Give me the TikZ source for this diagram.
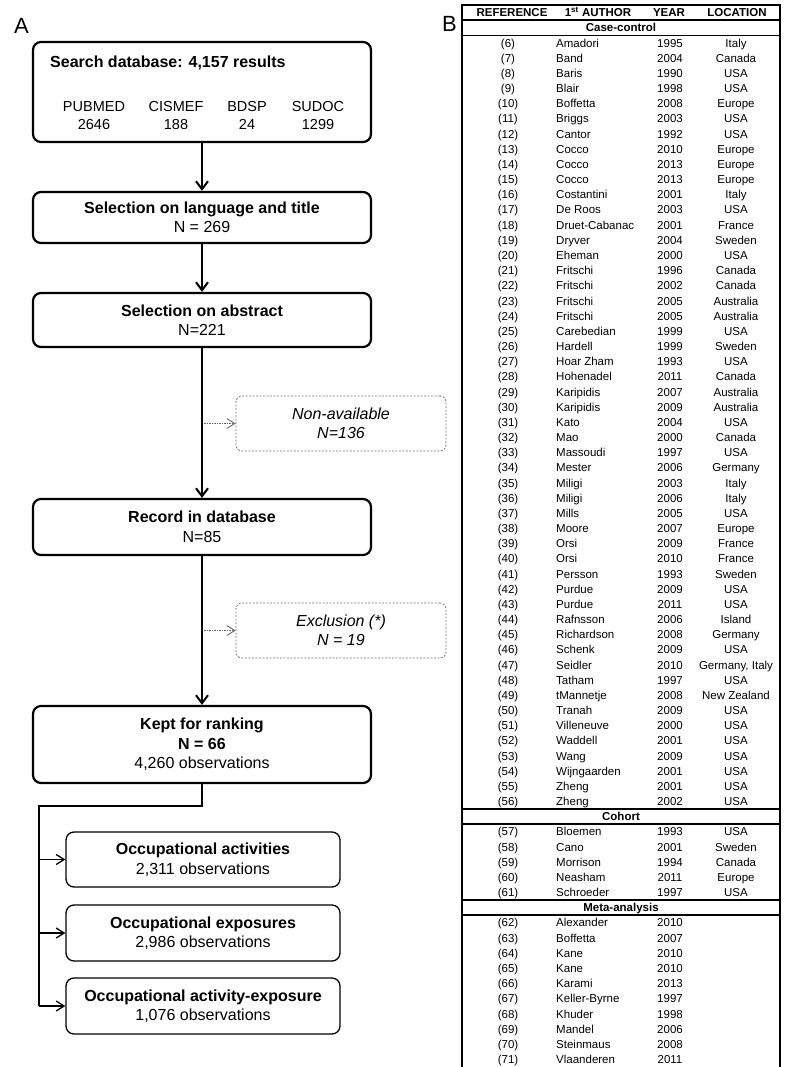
\documentclass[tikz,border=0pt]{standalone}
\usepackage{fontspec}
\setmainfont{Liberation Sans}
\usetikzlibrary{arrows.meta}
\newcommand\fsz[2]{\fontsize{#1}{#2}\selectfont}
\begin{document}
\begin{tikzpicture}[x=1pt,y=-1pt,
  mainbox/.style={draw, line width=2.2pt, rounded corners=8pt, minimum width=338pt, inner sep=0pt, align=center, font=\fsz{16}{19.5}},
  subbox/.style={draw, line width=1.3pt, rounded corners=8pt, minimum width=274pt, minimum height=55pt, inner sep=0pt, align=center, font=\fsz{16}{19.5}},
  dashbox/.style={draw=black!55, line width=0.8pt, dash pattern=on 2pt off 1.5pt, rounded corners=6pt, minimum width=210pt, minimum height=55pt, inner sep=0pt, align=center, font=\fsz{16}{18.5}\itshape},
  srcnode/.style={inner sep=0pt, anchor=base, font=\fsz{14.5}{17}},
  mainarrow/.style={line width=2pt, -{Straight Barb[length=8pt,width=12pt,line width=2pt]}},
  dotarrow/.style={draw=black!60, line width=0.9pt, dash pattern=on 1.5pt off 1pt, -{Straight Barb[length=8pt,width=10pt,line width=0.9pt]}},
  branch/.style={line width=1.3pt},
  subarrow/.style={line width=1.3pt, -{Straight Barb[length=8pt,width=10pt,line width=1.3pt]}},
  tline/.style={line width=1.6pt},
  thead/.style={inner sep=0pt, anchor=base, font=\fsz{11.5}{13}\bfseries},
  tcell/.style={inner sep=0pt, anchor=base, font=\fsz{11.5}{13}},
  panel/.style={inner sep=0pt, font=\fsz{22}{24}}
]
\useasboundingbox (0,0) rectangle (785,1067);

% ---------- Panel A ----------
\node[panel] (labA) at (21.5,25.5) {A};

\node[mainbox, minimum height=100pt] (search) at (202,92) {};
\node[anchor=base west, inner sep=0pt, font=\fsz{16}{19.5}\bfseries] (stitle) at (50,67.5) {Search database: 4,157 results};
\node[srcnode] (pubmed) at (94,112) {PUBMED};
\node[srcnode] (cismef) at (176,112) {CISMEF};
\node[srcnode] (bdsp) at (247,112) {BDSP};
\node[srcnode] (sudoc) at (318,112) {SUDOC};
\node[srcnode] (npubmed) at (94,129.5) {2646};
\node[srcnode] (ncismef) at (176,129.5) {188};
\node[srcnode] (nbdsp) at (247,129.5) {24};
\node[srcnode] (nsudoc) at (318,129.5) {1299};

\node[mainbox, minimum height=51pt] (lang) at (202,217.5) {\textbf{Selection on language and title}\\N = 269};
\node[mainbox, minimum height=54pt] (abs) at (202,320) {\textbf{Selection on abstract}\\N=221};
\node[dashbox] (nonav) at (341,423.5) {Non-available\\N=136};
\node[mainbox, minimum height=56pt] (rec) at (202,527) {\textbf{Record in database}\\N=85};
\node[dashbox] (excl) at (341,630.5) {Exclusion (*)\\N = 19};
\node[mainbox, minimum height=77pt] (kept) at (202,744.5) {\textbf{Kept for ranking}\\\textbf{N = 66}\\4,260 observations};

\node[subbox] (occact) at (203,859.5) {\textbf{Occupational activities}\\2,311 observations};
\node[subbox, minimum height=56pt] (occexp) at (203,933) {\textbf{Occupational exposures}\\2,986 observations};
\node[subbox, minimum height=56pt] (occae) at (203,1006) {\textbf{Occupational activity-exposure}\\1,076 observations};

\draw[mainarrow] (search.south) -- (lang.north);
\draw[mainarrow] (lang.south) -- (abs.north);
\draw[mainarrow] (abs.south) -- (rec.north);
\draw[mainarrow] (rec.south) -- (kept.north);

\coordinate (na0) at (204,423.5);
\coordinate (ex0) at (204,630.5);
\draw[dotarrow] (na0) -- (nonav.west);
\draw[dotarrow] (ex0) -- (excl.west);

\coordinate (b0) at (202,806);
\coordinate (b1) at (39,806);
\coordinate (b3) at (39,1006);
\draw[branch] (kept.south) -- (b0) -- (b1) -- (b3);
\draw[subarrow] (b1 |- occact.west) -- (occact.west);
\draw[subarrow] (b1 |- occexp.west) -- (occexp.west);
\draw[subarrow] (b3) -- (occae.west);

% ---------- Panel B ----------
\node[panel] (labB) at (449.5,23.5) {B};

\draw[tline] (462,1067) -- (462,5) -- (780,5) -- (780,1067);
\foreach \k in {1,2,53,54,59,60} {
  \draw[tline] (462,5+15.17*\k) -- (780,5+15.17*\k);
}

\node[thead] (hRef) at (512,16.8) {REFERENCE};
\node[thead] (hAut) at (598,16.8) {1\textsuperscript{st} AUTHOR};
\node[thead] (hYear) at (669,16.8) {YEAR};
\node[thead] (hLoc) at (737,16.8) {LOCATION};

\node[thead] (sCC) at (621,32) {Case-control};
\node[thead] (sCo) at (621,820.8) {Cohort};
\node[thead] (sMA) at (621,911.8) {Meta-analysis};

\foreach \r/\a/\yr/\loc [count=\k] in {
  6/Amadori/1995/Italy, 7/Band/2004/Canada, 8/Baris/1990/USA, 9/Blair/1998/USA,
  10/Boffetta/2008/Europe, 11/Briggs/2003/USA, 12/Cantor/1992/USA, 13/Cocco/2010/Europe,
  14/Cocco/2013/Europe, 15/Cocco/2013/Europe, 16/Costantini/2001/Italy, 17/De Roos/2003/USA,
  18/Druet-Cabanac/2001/France, 19/Dryver/2004/Sweden, 20/Eheman/2000/USA, 21/Fritschi/1996/Canada,
  22/Fritschi/2002/Canada, 23/Fritschi/2005/Australia, 24/Fritschi/2005/Australia, 25/Carebedian/1999/USA,
  26/Hardell/1999/Sweden, 27/Hoar Zham/1993/USA, 28/Hohenadel/2011/Canada, 29/Karipidis/2007/Australia,
  30/Karipidis/2009/Australia, 31/Kato/2004/USA, 32/Mao/2000/Canada, 33/Massoudi/1997/USA,
  34/Mester/2006/Germany, 35/Miligi/2003/Italy, 36/Miligi/2006/Italy, 37/Mills/2005/USA,
  38/Moore/2007/Europe, 39/Orsi/2009/France, 40/Orsi/2010/France, 41/Persson/1993/Sweden,
  42/Purdue/2009/USA, 43/Purdue/2011/USA, 44/Rafnsson/2006/Island, 45/Richardson/2008/Germany,
  46/Schenk/2009/USA, 47/Seidler/2010/{Germany, Italy}, 48/Tatham/1997/USA, 49/tMannetje/2008/New Zealand,
  50/Tranah/2009/USA, 51/Villeneuve/2000/USA, 52/Waddell/2001/USA, 53/Wang/2009/USA,
  54/Wijngaarden/2001/USA, 55/Zheng/2001/USA, 56/Zheng/2002/USA} {
  \pgfmathsetmacro\yy{5+15.17*(\k+1.5)+4.2}
  \node[tcell] (cr\k) at (508,\yy) {(\r)};
  \node[tcell, anchor=base west] (ca\k) at (556,\yy) {\a};
  \node[tcell] (cy\k) at (670,\yy) {\yr};
  \node[tcell] (cl\k) at (736,\yy) {\loc};
}

\foreach \r/\a/\yr/\loc [count=\k] in {
  57/Bloemen/1993/USA, 58/Cano/2001/Sweden, 59/Morrison/1994/Canada, 60/Neasham/2011/Europe, 61/Schroeder/1997/USA} {
  \pgfmathsetmacro\yy{5+15.17*(\k+53.5)+4.2}
  \node[tcell] (kr\k) at (508,\yy) {(\r)};
  \node[tcell, anchor=base west] (ka\k) at (556,\yy) {\a};
  \node[tcell] (ky\k) at (670,\yy) {\yr};
  \node[tcell] (kl\k) at (736,\yy) {\loc};
}

\foreach \r/\a/\yr [count=\k] in {
  62/Alexander/2010, 63/Boffetta/2007, 64/Kane/2010, 65/Kane/2010, 66/Karami/2013,
  67/Keller-Byrne/1997, 68/Khuder/1998, 69/Mandel/2006, 70/Steinmaus/2008, 71/Vlaanderen/2011} {
  \pgfmathsetmacro\yy{5+15.17*(\k+59.5)+4.2}
  \node[tcell] (mr\k) at (508,\yy) {(\r)};
  \node[tcell, anchor=base west] (ma\k) at (556,\yy) {\a};
  \node[tcell] (my\k) at (670,\yy) {\yr};
}
\end{tikzpicture}
\end{document}
